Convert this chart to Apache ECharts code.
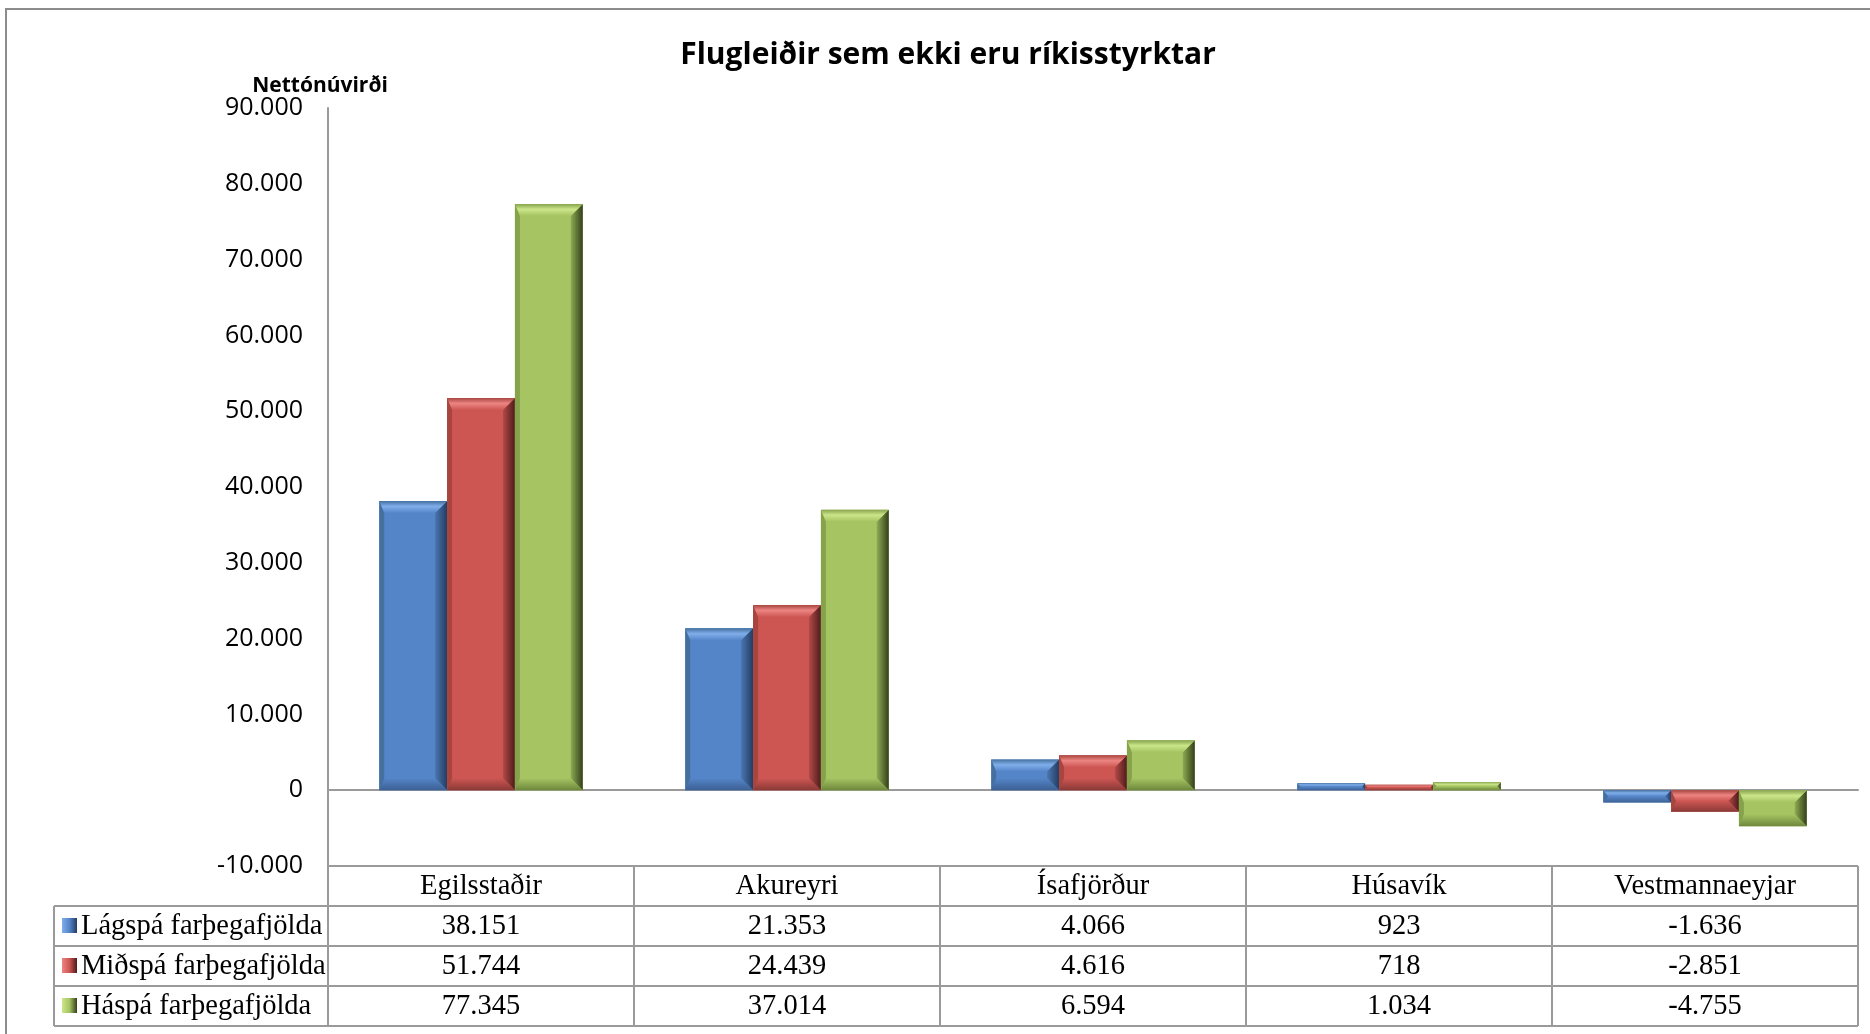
<!DOCTYPE html>
<html>
<head>
<meta charset="utf-8">
<script src="https://cdn.jsdelivr.net/npm/echarts@6/dist/echarts.min.js"></script>
<style>
html, body { margin: 0; padding: 0; background: #fff; }
#chart { width: 1870px; height: 1034px; }
</style>
</head>
<body>
<div id="chart"></div>
<script>
// gögn lesin af myndinni
var categories = ['Egilsstaðir', 'Akureyri', 'Ísafjörður', 'Húsavík', 'Vestmannaeyjar'];
var seriesNames = ['Lágspá farþegafjölda', 'Miðspá farþegafjölda', 'Háspá farþegafjölda'];
var lagspa = [38151, 21353, 4066, 923, -1636];
var midspa = [51744, 24439, 4616, 718, -2851];
var haspa = [77345, 37014, 6594, 1034, -4755];
var yMin = -10000, yMax = 90000, yStep = 10000;

// body, top, left, right-in, right-out, bottom
var colors = [
	{ body: '#5585c9', top: '#80aeea', left: '#44709f', rin: '#4a76b0', rout: '#243d62', bottom: '#3c6093' },
	{ body: '#cd5653', top: '#ec8582', left: '#a8453f', rin: '#b44a47', rout: '#4e1c1b', bottom: '#8a3936' },
	{ body: '#a6c462', top: '#cbe68a', left: '#86a34c', rin: '#8eab52', rout: '#33401a', bottom: '#6d873c' }
];

function fmt(v) {
	var s = Math.abs(v).toString().replace(/\B(?=(\d{3})+(?!\d))/g, '.');
	return (v < 0 ? '-' : '') + s;
}

var chart = echarts.init(document.getElementById('chart'));
var data = [lagspa, midspa, haspa];

function renderBevel(sIdx) {
	var c = colors[sIdx];
	return function (params, api) {
		var cat = api.value(0), v = api.value(1);
		var p0 = api.coord([cat, 0]);
		var p1 = api.coord([cat, v]);
		var bw = api.size([1, 0])[0] * 0.2217;
		var x = p0[0] - 1.5 * bw + sIdx * bw;
		var y = Math.min(p0[1], p1[1]);
		var h = Math.abs(p1[1] - p0[1]);
		var w = bw;
		var d = Math.min(12, h / 2, w / 2);
		var dl = Math.min(5, h / 2);
		return {
			type: 'group',
			children: [
				{ type: 'rect', shape: { x: x, y: y, width: w, height: h }, style: { fill: c.body } },
				{ type: 'polygon', shape: { points: [[x, y], [x + dl, y + dl], [x + dl, y + h - dl], [x, y + h]] }, style: { fill: c.left } },
				{ type: 'polygon', shape: { points: [[x + w, y], [x + w - d, y + d], [x + w - d, y + h - d], [x + w, y + h]] },
					style: { fill: new echarts.graphic.LinearGradient(0, 0, 1, 0, [{ offset: 0, color: c.rin }, { offset: 1, color: c.rout }]) } },
				{ type: 'polygon', shape: { points: [[x, y], [x + w, y], [x + w - d, y + d], [x + dl, y + d]] },
					style: { fill: new echarts.graphic.LinearGradient(0, 0, 0, 1, [{ offset: 0, color: c.left }, { offset: 0.45, color: c.top }, { offset: 1, color: c.body }]) } },
				{ type: 'polygon', shape: { points: [[x, y + h], [x + w, y + h], [x + w - d, y + h - d], [x + dl, y + h - d]] },
					style: { fill: new echarts.graphic.LinearGradient(0, 0, 0, 1, [{ offset: 0, color: c.body }, { offset: 1, color: c.bottom }]) } }
			]
		};
	};
}

var option = {
	animation: false,
	grid: { left: 328, right: 12, top: 108, bottom: 168 },
	xAxis: {
		type: 'category',
		data: categories,
		axisLine: { onZero: true, lineStyle: { color: '#9a9a9a', width: 2 } },
		axisTick: { show: false },
		axisLabel: { show: false }
	},
	yAxis: {
		type: 'value',
		min: yMin, max: yMax, interval: yStep,
		axisLine: { show: true, lineStyle: { color: '#9a9a9a', width: 2 } },
		axisTick: { show: false },
		splitLine: { show: false },
		axisLabel: {
			margin: 25,
			fontFamily: 'Open Sans',
			fontSize: 25,
			color: '#000',
			formatter: function (v) { return fmt(v); }
		}
	},
	series: data.map(function (d, i) {
		return {
			name: seriesNames[i],
			type: 'custom',
			renderItem: renderBevel(i),
			encode: { x: 0, y: 1 },
			data: d.map(function (v, j) { return [j, v]; }),
			z: 3
		};
	})
};
chart.setOption(option);

// tafla, titill og rammi
var g = [];
g.push({ type: 'rect', shape: { x: 6, y: 9, width: 1880, height: 1040 }, style: { fill: 'none', stroke: '#8c8c8c', lineWidth: 2 }, silent: true });
g.push({ type: 'text', x: 948, y: 55, style: { text: 'Flugleiðir sem ekki eru ríkisstyrktar', font: 'bold 30px "Open Sans"', fill: '#000', textAlign: 'center', textVerticalAlign: 'middle' } });
g.push({ type: 'text', x: 320, y: 86, style: { text: 'Nettónúvirði', font: 'bold 21px "Open Sans"', fill: '#000', textAlign: 'center', textVerticalAlign: 'middle' } });

var tableTop = chart.convertToPixel({ yAxisIndex: 0 }, yMin);
var rowH = 40;
var c0 = chart.convertToPixel({ xAxisIndex: 0 }, 0);
var c1 = chart.convertToPixel({ xAxisIndex: 0 }, 1);
var colW = c1 - c0;
var left = c0 - colW / 2;
var right = left + colW * categories.length;
var legendL = 54;
var lineStyle = { stroke: '#9a9a9a', lineWidth: 2 };

function hline(x1, x2, y) {
	g.push({ type: 'line', shape: { x1: x1, y1: y, x2: x2, y2: y }, style: lineStyle, silent: true });
}
function vline(x, y1, y2) {
	g.push({ type: 'line', shape: { x1: x, y1: y1, x2: x, y2: y2 }, style: lineStyle, silent: true });
}

hline(left, right, tableTop);
for (var r = 1; r <= 4; r++) hline(legendL, right, tableTop + rowH * r);
for (var k = 0; k <= categories.length; k++) vline(left + colW * k, tableTop, tableTop + rowH * 4);
vline(legendL, tableTop + rowH, tableTop + rowH * 4);

var cellFont = '28.5px "Liberation Serif"';
categories.forEach(function (c, j) {
	var cx = chart.convertToPixel({ xAxisIndex: 0 }, c);
	g.push({ type: 'text', x: cx, y: tableTop + rowH / 2 + 1, style: { text: c, font: cellFont, fill: '#000', textAlign: 'center', textVerticalAlign: 'middle' } });
	data.forEach(function (d, i) {
		g.push({ type: 'text', x: cx, y: tableTop + rowH * (i + 1.5) + 1, style: { text: fmt(d[j]), font: cellFont, fill: '#000', textAlign: 'center', textVerticalAlign: 'middle' } });
	});
});
seriesNames.forEach(function (n, i) {
	var yc = tableTop + rowH * (i + 1.5);
	var c = colors[i];
	g.push({ type: 'rect', shape: { x: 62, y: yc - 8, width: 15, height: 15 },
		style: { fill: new echarts.graphic.LinearGradient(0, 0, 1, 0, [{ offset: 0, color: c.top }, { offset: 0.5, color: c.body }, { offset: 1, color: c.rout }]) }, silent: true });
	g.push({ type: 'text', x: 81, y: yc + 1, style: { text: n, font: cellFont, fill: '#000', textAlign: 'left', textVerticalAlign: 'middle' } });
});

chart.setOption({ graphic: g });
</script>
</body>
</html>
